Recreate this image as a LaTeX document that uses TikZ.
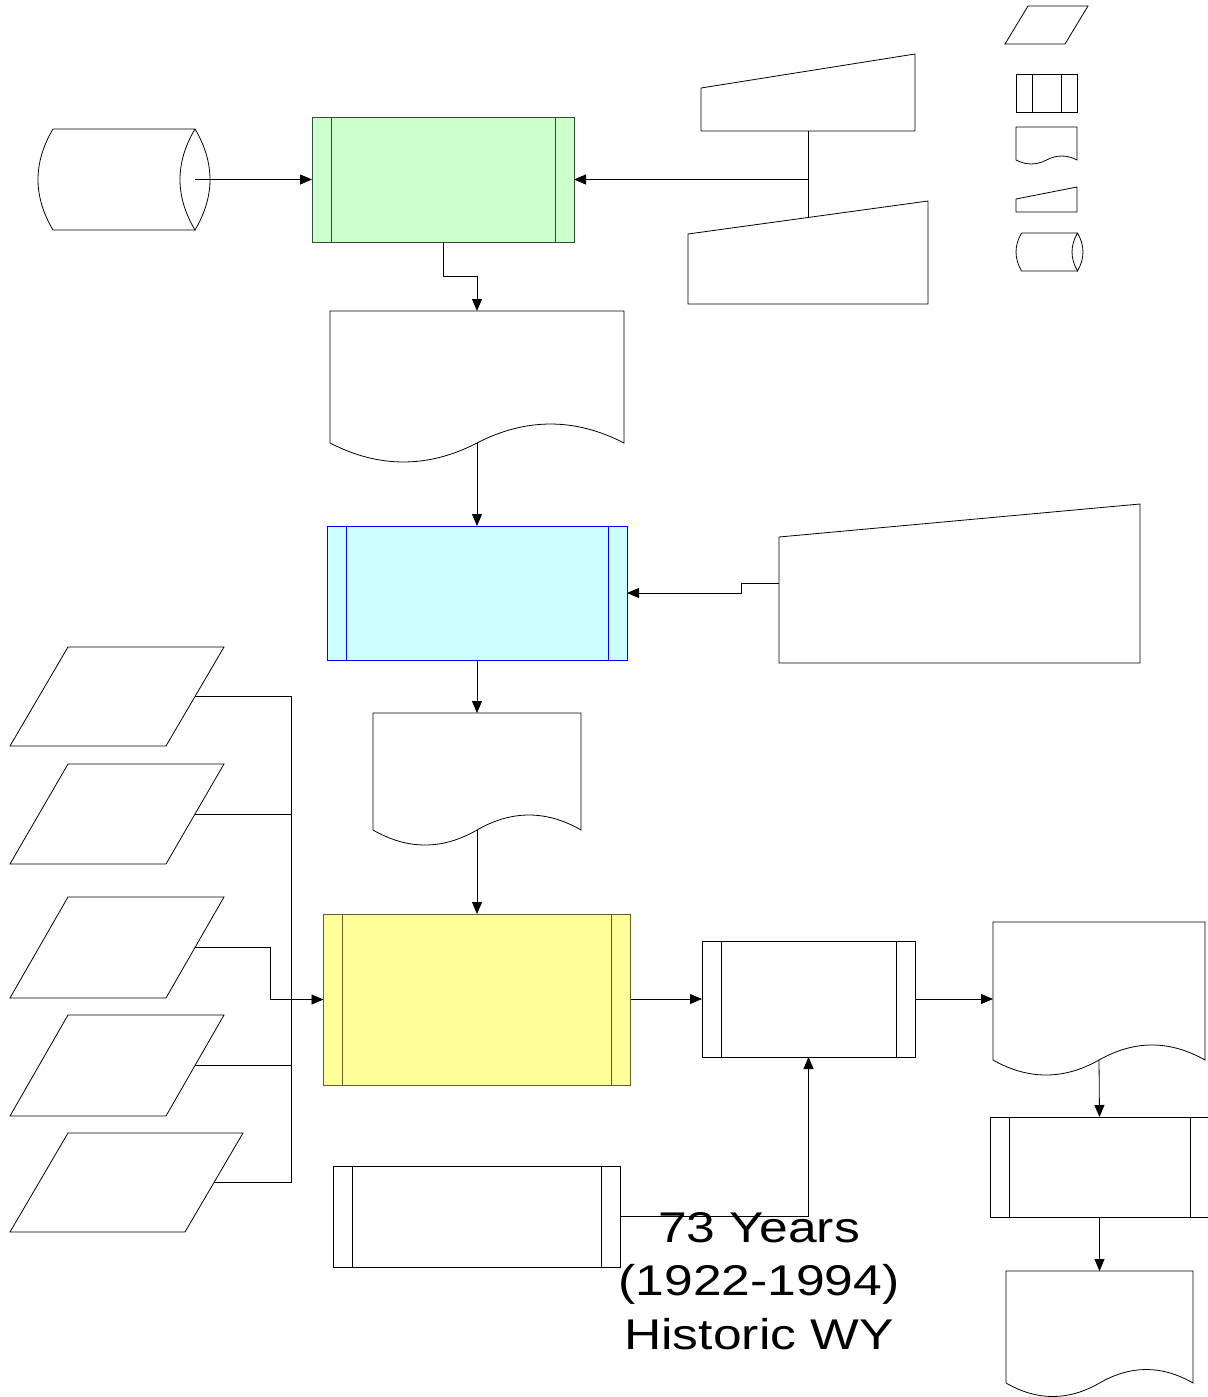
\documentclass[tikz,border=0pt]{standalone}
\usepackage{fontspec}
\setmainfont{Liberation Sans}
\usetikzlibrary{arrows.meta,calc}

\definecolor{greenfill}{HTML}{CCFFCC}
\definecolor{bluefill}{HTML}{CCFFFF}
\definecolor{yellowfill}{HTML}{FFFF99}
\definecolor{greenline}{HTML}{2F4F2F}
\definecolor{yellowline}{HTML}{5F5F2F}

\tikzset{
  predef/.style 2 args={draw=#2, inner sep=0pt, outer sep=0pt,
    path picture={
      \draw[#2, line width=0.8pt]
        ([xshift=#1]path picture bounding box.north west) -- ([xshift=#1]path picture bounding box.south west)
        ([xshift=-#1]path picture bounding box.north east) -- ([xshift=-#1]path picture bounding box.south east);}},
  hidden/.style={inner sep=0pt, outer sep=0pt},
  arr/.style={-{Triangle[length=12pt,width=10pt]}},
}

% document sheet with a wavy lower edge
\newcommand{\docshape}[2]{%
  \draw (#1.south west) -- (#1.north west) -- (#1.north east) -- (#1.south east)
    .. controls ($(#1.south east)!0.333!(#1.south)+(0,-#2)$) and ($(#1.south east)!0.667!(#1.south)+(0,-#2)$) .. (#1.south)
    .. controls ($(#1.south)!0.333!(#1.south west)+(0,#2)$) and ($(#1.south)!0.667!(#1.south west)+(0,#2)$) .. (#1.south west);
}
% manual input, top edge slanted
\newcommand{\keyshape}[2]{%
  \draw ($(#1.north west)+(0,#2)$) -- (#1.north east) -- (#1.south east) -- (#1.south west) -- cycle;
  \coordinate (#1-top) at ($(#1.north)+(0,0.5*#2)$);
}
% data, leaning to the right
\newcommand{\datashape}[2]{%
  \draw (#1.south west) -- ($(#1.north west)+(#2,0)$) -- (#1.north east) -- ($(#1.south east)+(-#2,0)$) -- cycle;
  \coordinate (#1-out) at ($(#1.east)+(-0.5*#2,0)$);
}
% lying drum
\newcommand{\diskshape}[3]{%
  \draw (#1.north west) -- (#1.north east)
    .. controls ($(#1.north east)+(#2,#3)$) and ($(#1.south east)+(#2,-#3)$) .. (#1.south east)
    .. controls ($(#1.south east)+(-#2,-#3)$) and ($(#1.north east)+(-#2,#3)$) .. (#1.north east);
  \draw (#1.south east) -- (#1.south west)
    .. controls ($(#1.south west)+(-#2,-#3)$) and ($(#1.north west)+(-#2,#3)$) .. (#1.north west);
}

\begin{document}
\begin{tikzpicture}[x=1pt, y=-1pt, line width=0.8pt]
  \useasboundingbox (0,0) rectangle (1207,1397);

  % top row
  \node[hidden, minimum width=142pt, minimum height=101pt] (disk) at (124,179.5) {};
  \node[predef={19pt}{greenline}, fill=greenfill, minimum width=262pt, minimum height=125pt] (merge) at (443,179.5) {};
  \node[hidden, minimum width=214pt, minimum height=77pt] (key1) at (808,92.5) {};
  \node[hidden, minimum width=240pt, minimum height=103pt] (key2) at (808,252.5) {};
  \node[hidden, minimum width=294pt, minimum height=132pt] (rep1) at (477,377) {};

  % middle
  \node[predef={19pt}{blue}, fill=bluefill, minimum width=300pt, minimum height=134pt] (filter) at (477,593) {};
  \node[hidden, minimum width=361pt, minimum height=159pt] (key3) at (959.5,583.5) {};
  \node[hidden, minimum width=208pt, minimum height=117pt] (rep2) at (477,771.5) {};

  % lower part
  \node[predef={19pt}{yellowline}, fill=yellowfill, minimum width=307pt, minimum height=171pt] (model) at (477,999.5) {};
  \node[hidden, minimum width=214pt, minimum height=99pt] (in1) at (117,696.5) {};
  \node[hidden, minimum width=214pt, minimum height=100pt] (in2) at (117,814) {};
  \node[hidden, minimum width=214pt, minimum height=101pt] (in3) at (117,947.5) {};
  \node[hidden, minimum width=214pt, minimum height=101pt] (in4) at (117,1065.5) {};
  \node[hidden, minimum width=233pt, minimum height=99pt] (in5) at (126.5,1182.5) {};
  \node[predef={19pt}{black}, minimum width=213pt, minimum height=116pt] (post) at (808.5,999) {};
  \node[predef={19pt}{black}, minimum width=287pt, minimum height=101pt] (hist) at (476.5,1216.5) {};
  \node[hidden, minimum width=212pt, minimum height=138pt] (rep3) at (1099,991) {};
  \node[predef={19pt}{black}, minimum width=219pt, minimum height=100pt] (stats) at (1099.5,1167) {};
  \node[hidden, minimum width=187pt, minimum height=112pt] (rep4) at (1099.5,1327) {};

  % legend
  \node[hidden, minimum width=83pt, minimum height=38pt] (legdata) at (1046.5,25) {};
  \node[predef={16pt}{black}, minimum width=61pt, minimum height=38pt] (legproc) at (1046.5,93) {};
  \node[hidden, minimum width=61pt, minimum height=33pt] (legdoc) at (1046.5,143.5) {};
  \node[hidden, minimum width=61pt, minimum height=25pt] (legkey) at (1046.5,199.5) {};
  \node[hidden, minimum width=56pt, minimum height=38pt] (legdisk) at (1049.5,252) {};

  \diskshape{disk}{20}{33.7}
  \keyshape{key1}{34}
  \keyshape{key2}{33}
  \keyshape{key3}{33}
  \docshape{rep1}{25.3}
  \docshape{rep2}{20}
  \docshape{rep3}{20}
  \docshape{rep4}{18}
  \datashape{in1}{58}
  \datashape{in2}{58}
  \datashape{in3}{58}
  \datashape{in4}{58}
  \datashape{in5}{58}
  \datashape{legdata}{23}
  \docshape{legdoc}{5.3}
  \keyshape{legkey}{12}
  \diskshape{legdisk}{7.3}{12.7}

  \node[anchor=north, inner sep=0pt, align=center, font=\fontsize{43pt}{53.5pt}\selectfont] (note) at (759,1212)
    {\scalebox{1.2}[1]{73 Years}\\\scalebox{1.2}[1]{(1922-1994)}\\\scalebox{1.2}[1]{Historic WY}};

  % connectors
  \draw[arr] (disk.east) -- (merge.west);
  \draw (key2-top) |- (merge.east);
  \draw[arr] (key1.south) |- (merge.east);
  \draw[arr] (merge.south) -- ++(0,34) -| (rep1.north);
  \draw[arr] (rep1.south) -- (filter.north);
  \draw[arr] (key3.west) -- ++(-38,0) |- (filter.east);
  \draw[arr] (filter.south) -- (rep2.north);
  \draw[arr] (rep2.south) -- (model.north);
  \coordinate (bus) at ($(model.west)+(-32,0)$);
  \draw (in1-out) -| (bus);
  \draw (in2-out) -| (bus);
  \draw (in3-out) -- ++(75,0) |- (bus);
  \draw (in4-out) -| (bus);
  \draw (in5-out) -| (bus);
  \draw[arr] (bus) -- (model.west);
  \draw[arr] (model.east) -- ++(40,0) |- (post.west);
  \draw[arr] (hist.east) -| (post.south);
  \draw[arr] (post.east) -- (post.east -| rep3.west);
  \draw[arr] (rep3.south) -- (stats.north);
  \draw[arr] (stats.south) -- (rep4.north);
\end{tikzpicture}
\end{document}
